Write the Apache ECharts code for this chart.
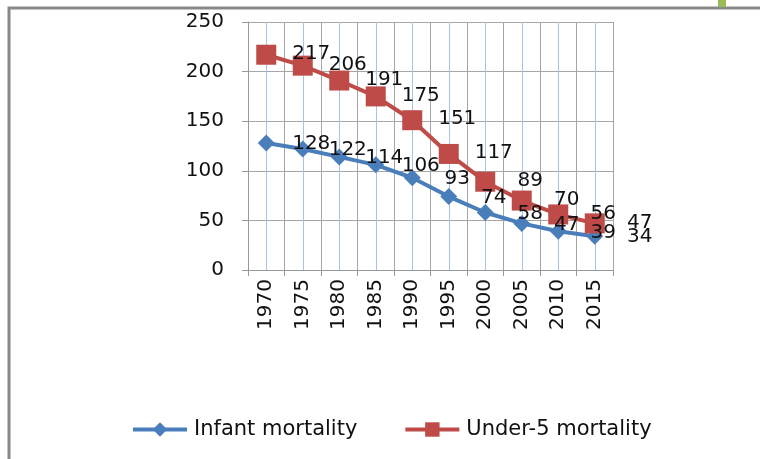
<!DOCTYPE html>
<html>
<head>
<meta charset="utf-8">
<script src="https://cdn.jsdelivr.net/npm/echarts@6/dist/echarts.min.js"></script>
<style>
  html, body { margin: 0; padding: 0; background: #fff; }
  #chart { width: 760px; height: 459px; }
</style>
</head>
<body>
<div id="chart"></div>
<script>
var years = ['1970','1975','1980','1985','1990','1995','2000','2005','2010','2015'];
var infant = [128, 122, 114, 106, 93, 74, 58, 47, 39, 34];
var under5 = [217, 206, 191, 175, 151, 117, 89, 70, 56, 47];
var yTicks = [0, 50, 100, 150, 200, 250];

var font = '"DejaVu Sans", sans-serif';
var chart = echarts.init(document.getElementById('chart'));

var option = {
    backgroundColor: '#fff',
    animation: false,
    textStyle: { fontFamily: font },
    grid: { left: 248, right: 147, top: 22, bottom: 189 },
    graphic: [
        { type: 'rect', shape: { x: 9, y: 8, width: 800, height: 500 },
          style: { fill: 'none', stroke: '#888', lineWidth: 3 }, silent: true },
        { type: 'rect', shape: { x: 718, y: 0, width: 8, height: 7 },
          style: { fill: '#9bbb59' }, silent: true }
    ],
    legend: {
        bottom: 14,
        left: 126,
        itemWidth: 54,
        itemHeight: 18,
        itemGap: 46,
        lineStyle: { width: 4 },
        textStyle: { fontFamily: font, fontSize: 21, color: '#111', padding: [0, 0, 0, 2] },
        data: ['Infant mortality', 'Under-5 mortality']
    },
    xAxis: [
        {
            type: 'category',
            data: years,
            boundaryGap: true,
            axisLine: { lineStyle: { color: '#999', width: 1 } },
            axisTick: { show: true, length: 6, lineStyle: { color: '#999' } },
            splitLine: { show: false },
            axisLabel: { rotate: 90, fontSize: 20, color: '#111', margin: 9, fontFamily: font }
        },
        {
            // gridlines: grey at category edges, light blue at centres
            type: 'value',
            min: 0,
            max: 20,
            interval: 1,
            position: 'top',
            axisLine: { show: false },
            axisTick: { show: false },
            axisLabel: { show: false },
            splitLine: { show: true, lineStyle: { color: ['#a6a6a6', '#a9c3e8'], width: 1 } }
        }
    ],
    yAxis: {
        type: 'value',
        min: yTicks[0],
        max: yTicks[yTicks.length - 1],
        interval: 50,
        axisLine: { show: true, lineStyle: { color: '#999' } },
        axisTick: { show: true, length: 6, lineStyle: { color: '#999' } },
        splitLine: { lineStyle: { color: '#a6a6a6' } },
        axisLabel: { fontSize: 20, color: '#111', margin: 24, fontFamily: font }
    },
    series: [
        {
            name: 'Infant mortality',
            type: 'line',
            data: infant,
            symbol: 'diamond',
            symbolSize: 17,
            lineStyle: { color: '#4a7ebb', width: 4 },
            itemStyle: { color: '#4a7ebb' },
            label: { show: true, position: 'inside', offset: [45, 1], fontSize: 20, color: '#111', fontFamily: font }
        },
        {
            name: 'Under-5 mortality',
            type: 'line',
            data: under5,
            symbol: 'rect',
            symbolSize: 20,
            lineStyle: { color: '#be4b48', width: 4 },
            itemStyle: { color: '#be4b48' },
            label: { show: true, position: 'inside', offset: [45, -1], fontSize: 20, color: '#111', fontFamily: font }
        }
    ]
};
chart.setOption(option);
</script>
</body>
</html>
